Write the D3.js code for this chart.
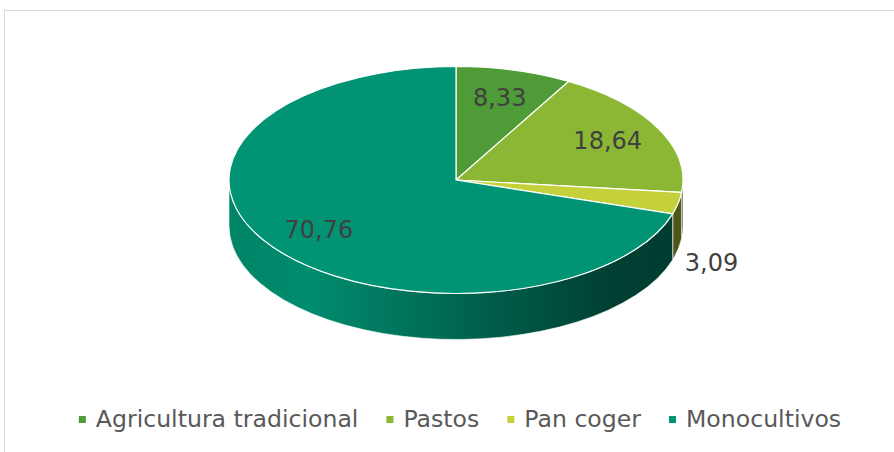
<!DOCTYPE html>
<html lang="es">
<head>
<meta charset="UTF-8">
<script src="https://cdn.jsdelivr.net/npm/d3@7/dist/d3.min.js"></script>
<style>
  body { margin: 0; background: #fff; }
  text { font-family: "DejaVu Sans", Verdana, sans-serif; }
</style>
</head>
<body>
<script>
var categories = ["Agricultura tradicional", "Pastos", "Pan coger", "Monocultivos"];
var values = [8.33, 18.64, 3.09, 70.76];
var colors = ["#4e9b37", "#8bb734", "#c4d13a", "#009474"];
var outsideLabel = [false, false, true, false];

var width = 894, height = 452;
var cx = 456, cy = 180, rx = 227, ry = 113.5, depth = 46;

var svg = d3.select("body").append("svg")
    .attr("width", width).attr("height", height);

// marco del gráfico
svg.append("rect")
    .attr("x", 4.5).attr("y", 10.5)
    .attr("width", 950).attr("height", 500)
    .attr("fill", "none").attr("stroke", "#d9d9d9").attr("stroke-width", 1);

var fmt = d3.formatLocale({decimal: ",", thousands: ".", grouping: [3], currency: ["", ""]}).format(".2f");

var pie = d3.pie().sort(null).value(function(d){ return d; });
var arcs = pie(values);

function pt(a, dy) {
    return [cx + rx * Math.sin(a), cy - ry * Math.cos(a) + (dy || 0)];
}

function topPath(d) {
    var p0 = pt(d.startAngle), p1 = pt(d.endAngle);
    var large = (d.endAngle - d.startAngle) > Math.PI ? 1 : 0;
    return "M" + cx + "," + cy + "L" + p0 + "A" + rx + "," + ry + " 0 " + large + " 1 " + p1 + "Z";
}

function sidePath(d) {
    var b0 = Math.max(d.startAngle, Math.PI / 2), b1 = Math.min(d.endAngle, 3 * Math.PI / 2);
    if (b1 <= b0) return null;
    var t0 = pt(b0), t1 = pt(b1), s0 = pt(b0, depth), s1 = pt(b1, depth);
    return "M" + t0 + "A" + rx + "," + ry + " 0 0 1 " + t1 + "L" + s1 +
           "A" + rx + "," + ry + " 0 0 0 " + s0 + "Z";
}

// degradados laterales
var defs = svg.append("defs");
colors.forEach(function(c, i){
    var g = defs.append("linearGradient").attr("id", "side" + i)
        .attr("gradientUnits", "userSpaceOnUse")
        .attr("x1", cx - rx).attr("x2", cx + rx).attr("y1", 0).attr("y2", 0);
    [[0, 0.35], [0.18, 0.15], [0.55, 1.2], [0.85, 2.4], [1, 2.5]].forEach(function(s){
        g.append("stop").attr("offset", s[0]).attr("stop-color", d3.color(c).darker(s[1]));
    });
});

svg.append("g").selectAll("path")
    .data(arcs.filter(function(d){ return sidePath(d) !== null; }))
    .enter().append("path")
    .attr("d", sidePath)
    .attr("fill", function(d){ return "url(#side" + d.index + ")"; })
    .attr("stroke", "#ffffff").attr("stroke-width", 0.8).attr("stroke-opacity", 0.8);

svg.append("g").selectAll("path")
    .data(arcs)
    .enter().append("path")
    .attr("d", topPath)
    .attr("fill", function(d){ return colors[d.index]; })
    .attr("stroke", "#ffffff").attr("stroke-width", 1.2).attr("stroke-linejoin", "round");

// etiquetas
svg.append("g").selectAll("text")
    .data(arcs)
    .enter().append("text")
    .attr("x", function(d){
        var a = (d.startAngle + d.endAngle) / 2;
        var f = outsideLabel[d.index] ? 1.15 : 0.75;
        return cx + rx * f * Math.sin(a);
    })
    .attr("y", function(d){
        var a = (d.startAngle + d.endAngle) / 2;
        if (outsideLabel[d.index]) return cy - ry * Math.cos(a) + depth * 1.3;
        return cy - ry * 0.75 * Math.cos(a);
    })
    .attr("text-anchor", "middle")
    .attr("dominant-baseline", "central")
    .attr("font-size", "24px")
    .attr("fill", "#404040")
    .text(function(d){ return fmt(d.data); });

// leyenda
var legend = svg.append("g");
var items = legend.selectAll("g").data(categories).enter().append("g");
items.append("rect")
    .attr("width", 7).attr("height", 7)
    .attr("y", -11)
    .attr("fill", function(d, i){ return colors[i]; });
items.append("text")
    .attr("x", 17).attr("y", 0)
    .attr("font-size", "23.6px").attr("fill", "#595959")
    .text(function(d){ return d; });

var xs = [], x = 0;
items.each(function(){
    xs.push(x);
    x += 17 + d3.select(this).select("text").node().getComputedTextLength() + 28;
});
var total = x - 28;
var startX = 460 - total / 2;
items.attr("transform", function(d, i){ return "translate(" + (startX + xs[i]) + ",427)"; });
</script>
</body>
</html>
